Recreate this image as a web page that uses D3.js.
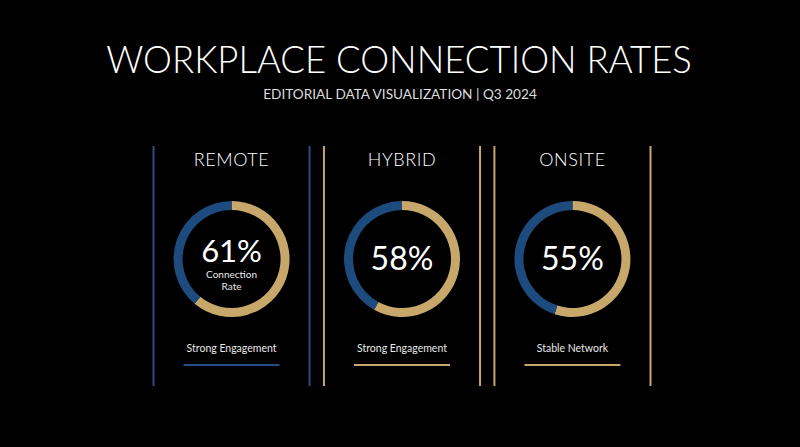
<!DOCTYPE html>
<html>
<head>
<meta charset="utf-8">
<script src="https://cdn.jsdelivr.net/npm/d3@7"></script>
<style>
  html, body { margin: 0; padding: 0; background: #000; }
  svg { display: block; }
</style>
</head>
<body>
<svg id="chart" width="800" height="447"></svg>
<script>
// ---- data ----
const categories = ["REMOTE", "HYBRID", "ONSITE"];
const rates = [61, 58, 55];
const statusLabels = ["Strong Engagement", "Strong Engagement", "Stable Network"];
const title = "WORKPLACE CONNECTION RATES";
const subtitle = "EDITORIAL DATA VISUALIZATION | Q3 2024";
const centerCaption = ["Connection", "Rate"];

// ---- styles ----
const BLUE = "#1d4b7d";
const BLUE_LINE = "#264f86";
const GOLD = "#c8a86a";
const FONT = "Lato, 'Open Sans', sans-serif";

const svg = d3.select("#chart");
svg.append("rect").attr("width", 800).attr("height", 447).attr("fill", "#000");

function fitText(sel, targetW) {
  const w = sel.node().getComputedTextLength();
  const fs = parseFloat(sel.attr("font-size"));
  sel.attr("font-size", fs * targetW / w);
}

const t = svg.append("text").attr("x", 399).attr("y", 73)
  .attr("text-anchor", "middle").attr("fill", "#fff")
  .attr("font-family", FONT).attr("font-weight", 300)
  .attr("font-size", 32).text(title);
fitText(t, 586);

const st = svg.append("text").attr("x", 400).attr("y", 99)
  .attr("text-anchor", "middle").attr("fill", "#dcdcdc")
  .attr("font-family", FONT).attr("font-weight", 400)
  .attr("font-size", 13).text(subtitle);
fitText(st, 274);

// panel band scale
const x = d3.scaleBand().domain(categories).range([153, 651]).paddingInner(13 / 166);
const accent = d3.scaleOrdinal().domain(categories).range([BLUE_LINE, GOLD, GOLD]);
const angle = d3.scaleLinear().domain([0, 100]).range([0, 2 * Math.PI]);
const arc = d3.arc().innerRadius(49).outerRadius(58);

const panels = svg.selectAll("g.panel").data(categories).join("g")
  .attr("class", "panel")
  .attr("transform", d => `translate(${x(d)},0)`);

const bw = x.bandwidth();

panels.each(function (cat, i) {
  const g = d3.select(this);
  const cx = bw / 2;
  const col = accent(cat);
  // borders
  [0.5, bw - 0.5].forEach(px => {
    g.append("line").attr("x1", px).attr("x2", px).attr("y1", 146).attr("y2", 386)
      .attr("stroke", col).attr("stroke-width", 2);
  });
  // title
  const pt = g.append("text").attr("x", cx).attr("y", 166).attr("text-anchor", "middle")
    .attr("fill", "#fff").attr("font-family", FONT).attr("font-weight", 300)
    .attr("font-size", 18).attr("letter-spacing", 0.6).text(cat);
  // donut
  const dg = g.append("g").attr("transform", `translate(${cx},259)`);
  const v = rates[i];
  dg.append("path").attr("fill", GOLD)
    .attr("d", arc({ startAngle: angle(0), endAngle: angle(v) }));
  dg.append("path").attr("fill", BLUE)
    .attr("d", arc({ startAngle: angle(v), endAngle: angle(100) }));
  if (i === 0) {
    dg.append("text").attr("x", 0).attr("y", 3).attr("text-anchor", "middle")
      .attr("fill", "#fff").attr("font-family", FONT).attr("font-weight", 400)
      .attr("font-size", 31).text(v + "%");
    centerCaption.forEach((c, k) => {
      dg.append("text").attr("x", 0).attr("y", 19 + k * 12).attr("text-anchor", "middle")
        .attr("fill", "#e8e8e8").attr("font-family", FONT).attr("font-size", 10).text(c);
    });
  } else {
    dg.append("text").attr("x", 0).attr("y", 11).attr("text-anchor", "middle")
      .attr("fill", "#fff").attr("font-family", FONT).attr("font-weight", 400)
      .attr("font-size", 32).text(v + "%");
  }
  // status label
  g.append("text").attr("x", cx).attr("y", 352).attr("text-anchor", "middle")
    .attr("fill", "#e8e8e8").attr("font-family", FONT).attr("font-size", 10.5)
    .text(statusLabels[i]);
  g.append("line").attr("x1", cx - 48).attr("x2", cx + 48).attr("y1", 365).attr("y2", 365)
    .attr("stroke", i === 0 ? BLUE_LINE : GOLD).attr("stroke-width", 2);
});
</script>
</body>
</html>
